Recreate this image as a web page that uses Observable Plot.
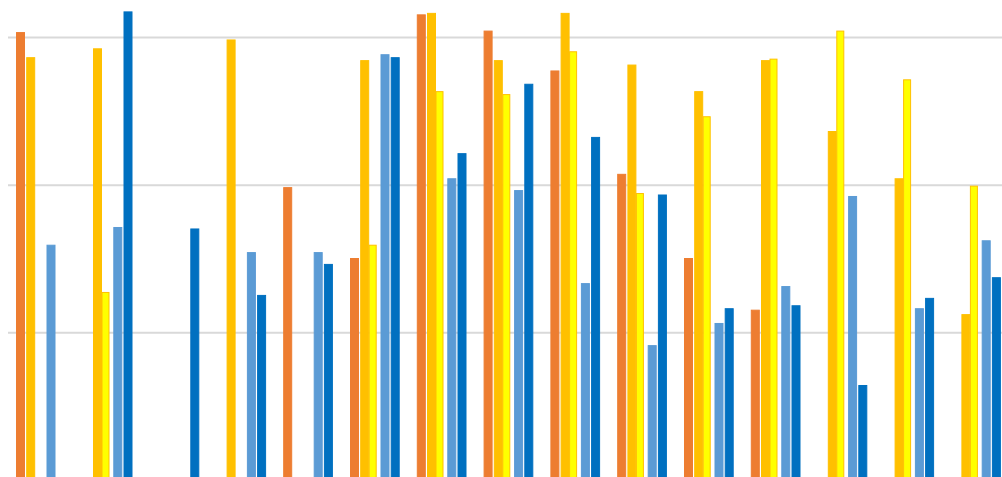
<!DOCTYPE html>
<html>
<head>
<meta charset="utf-8">
<script src="https://cdn.jsdelivr.net/npm/d3@7"></script>
<script src="https://cdn.jsdelivr.net/npm/@observablehq/plot@0.6"></script>
<style>
  html, body { margin: 0; padding: 0; background: #ffffff; overflow: hidden; }
  #chart svg { display: block; }
</style>
</head>
<body>
<div id="chart"></div>
<script>
const groups = ["1","2","3","4","5","6","7","8","9","10","11","12","13","14","15"];
const seriesNames = ["Series 1","Series 2","Series 3","Series 4","Series 5"];
const seriesFill = ["#ED7D31","#FFC000","#FFFF00","#5B9BD5","#0070C0"];
const seriesStroke = ["#ED7D31","#FFC000","#FFC000","#5B9BD5","#0070C0"];

const s1 = [3.03, null, null, null, 1.98, 1.50, 3.15, 3.04, 2.77, 2.07, 1.50, 1.15, null, null, null];
const s2 = [2.86, 2.92, null, 2.98, null, 2.84, 3.16, 2.84, 3.16, 2.81, 2.63, 2.84, 2.36, 2.04, 1.12];
const s3 = [null, 1.27, null, null, null, 1.59, 2.63, 2.61, 2.90, 1.94, 2.46, 2.85, 3.04, 2.71, 1.99];
const s4 = [1.59, 1.71, null, 1.54, 1.54, 2.88, 2.04, 1.96, 1.33, 0.91, 1.06, 1.31, 1.92, 1.16, 1.62];
const s5 = [null, 3.17, 1.70, 1.25, 1.46, 2.86, 2.21, 2.68, 2.32, 1.93, 1.16, 1.18, 0.64, 1.23, 1.37];
const gridValues = [1, 2, 3];

const seriesValues = [s1, s2, s3, s4, s5];

// layout of the bars inside each group band
const xRange = [7.6, 1009.6];
const bandW = (xRange[1] - xRange[0]) / groups.length;
const barW = [8, 8, 7, 8, 8];
const barOffset = [-20.5, -10.3, -2.3, 10, 20.2];

const barMarks = seriesNames.map((s, k) => {
  const rows = groups
    .map((g, i) => ({group: g, series: s, value: seriesValues[k][i]}))
    .filter(d => d.value != null);
  return Plot.barY(rows, {
    x: "group",
    y: "value",
    fill: seriesFill[k],
    stroke: seriesStroke[k],
    strokeWidth: 1,
    insetLeft: bandW / 2 + barOffset[k] - barW[k] / 2,
    insetRight: bandW / 2 - barOffset[k] - barW[k] / 2
  });
});

const chart = Plot.plot({
  width: 1002,
  height: 477,
  marginLeft: 8,
  marginRight: 0,
  marginTop: 37,
  marginBottom: -3,
  x: {domain: groups, range: xRange, padding: 0, round: false, axis: null},
  y: {domain: [0, 3], axis: null},
  marks: [
    Plot.ruleY(gridValues, {stroke: "#d9d9d9", strokeWidth: 2}),
    ...barMarks
  ]
});
document.getElementById("chart").appendChild(chart);
</script>
</body>
</html>
